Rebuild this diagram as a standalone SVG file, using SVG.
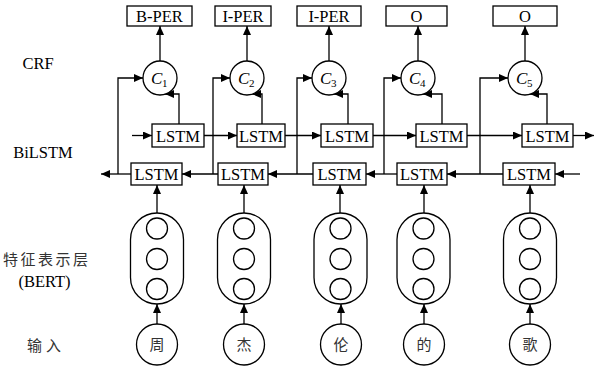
<svg xmlns="http://www.w3.org/2000/svg" width="595" height="369" viewBox="0 0 595 369">
<defs>
<marker id="ah" markerWidth="9" markerHeight="8" refX="9" refY="4" orient="auto" markerUnits="userSpaceOnUse">
<path d="M0,0 L9,4 L0,8 z" fill="#000"/>
</marker>
</defs>
<rect width="595" height="369" fill="#fff"/>

<g id="labels">
<text x="38" y="69" font-family="Liberation Serif" font-size="16.5" text-anchor="middle">CRF</text>
<text x="43" y="158" font-family="Liberation Serif" font-size="16.5" text-anchor="middle">BiLSTM</text>
<text x="3" y="265" font-family="Noto Sans CJK SC" font-size="15" fill="#333" letter-spacing="2.5">特征表示层</text>
<text x="44.5" y="287" font-family="Liberation Serif" font-size="16.5" text-anchor="middle">(BERT)</text>
<text x="27" y="351" font-family="Noto Sans CJK SC" font-size="15" fill="#333" letter-spacing="4">输入</text>
</g>

<g id="connectors" fill="none" stroke="#000" stroke-width="1.3" marker-end="url(#ah)">
<line x1="160" y1="61" x2="160" y2="26"/>
<line x1="247" y1="61" x2="247" y2="26"/>
<line x1="329" y1="61" x2="329" y2="26"/>
<line x1="418" y1="61" x2="418" y2="26"/>
<line x1="525" y1="61" x2="525" y2="26"/>
<polyline points="179,124 179,94 165,94"/>
<polyline points="262,124 262,94 252,94"/>
<polyline points="348,124 348,94 334,94"/>
<polyline points="442,124 442,94 423,94"/>
<polyline points="547,124 547,94 530,94"/>
<polyline points="118,174 118,78 143,78"/>
<polyline points="213,174 213,78 230,78"/>
<polyline points="297,174 297,78 312,78"/>
<polyline points="384,174 384,78 401,78"/>
<polyline points="480,174 480,78 508,78"/>
<line x1="132" y1="135.5" x2="152" y2="135.5"/>
<line x1="204" y1="135.5" x2="237" y2="135.5"/>
<line x1="285" y1="135.5" x2="321" y2="135.5"/>
<line x1="373" y1="135.5" x2="416" y2="135.5"/>
<line x1="467" y1="135.5" x2="522" y2="135.5"/>
<line x1="573" y1="135.5" x2="594" y2="135.5"/>
<line x1="580" y1="174" x2="555" y2="174"/>
<line x1="503" y1="174" x2="447" y2="174"/>
<line x1="397" y1="174" x2="366" y2="174"/>
<line x1="313" y1="174" x2="268" y2="174"/>
<line x1="218" y1="174" x2="182" y2="174"/>
<line x1="131" y1="174" x2="101" y2="174"/>
<line x1="157" y1="213" x2="157" y2="185"/>
<line x1="244" y1="213" x2="244" y2="185"/>
<line x1="340" y1="213" x2="340" y2="185"/>
<line x1="424" y1="213" x2="424" y2="185"/>
<line x1="530" y1="213" x2="530" y2="185"/>
<line x1="157" y1="324" x2="157" y2="304"/>
<line x1="244" y1="324" x2="244" y2="304"/>
<line x1="341" y1="324" x2="341" y2="304"/>
<line x1="424" y1="324" x2="424" y2="304"/>
<line x1="530" y1="324" x2="530" y2="304"/>
</g>

<g fill="#fff" stroke="#000" stroke-width="1.3">
<g id="out1"><rect x="127" y="6" width="65" height="20"/><text x="159.5" y="21.5" stroke="none" fill="#000" font-family="Liberation Serif" font-size="16.5" text-anchor="middle">B-PER</text></g>
<g id="out2"><rect x="215" y="6" width="56" height="20"/><text x="243" y="21.5" stroke="none" fill="#000" font-family="Liberation Serif" font-size="16.5" text-anchor="middle">I-PER</text></g>
<g id="out3"><rect x="297" y="6" width="64" height="20"/><text x="329" y="21.5" stroke="none" fill="#000" font-family="Liberation Serif" font-size="16.5" text-anchor="middle">I-PER</text></g>
<g id="out4"><rect x="386" y="6" width="61" height="20"/><text x="416.5" y="21.5" stroke="none" fill="#000" font-family="Liberation Serif" font-size="16.5" text-anchor="middle">O</text></g>
<g id="out5"><rect x="493" y="6" width="64" height="20"/><text x="525" y="21.5" stroke="none" fill="#000" font-family="Liberation Serif" font-size="16.5" text-anchor="middle">O</text></g>

<g id="c1"><circle cx="160" cy="78" r="17"/><text x="151" y="84" stroke="none" fill="#000" font-family="Liberation Serif" font-style="italic" font-size="17">C</text><text x="162" y="87" stroke="none" fill="#000" font-family="Liberation Serif" font-size="11">1</text></g>
<g id="c2"><circle cx="247" cy="78" r="17"/><text x="238" y="84" stroke="none" fill="#000" font-family="Liberation Serif" font-style="italic" font-size="17">C</text><text x="249" y="87" stroke="none" fill="#000" font-family="Liberation Serif" font-size="11">2</text></g>
<g id="c3"><circle cx="329" cy="78" r="17"/><text x="320" y="84" stroke="none" fill="#000" font-family="Liberation Serif" font-style="italic" font-size="17">C</text><text x="331" y="87" stroke="none" fill="#000" font-family="Liberation Serif" font-size="11">3</text></g>
<g id="c4"><circle cx="418" cy="78" r="17"/><text x="409" y="84" stroke="none" fill="#000" font-family="Liberation Serif" font-style="italic" font-size="17">C</text><text x="420" y="87" stroke="none" fill="#000" font-family="Liberation Serif" font-size="11">4</text></g>
<g id="c5"><circle cx="525" cy="78" r="17"/><text x="516" y="84" stroke="none" fill="#000" font-family="Liberation Serif" font-style="italic" font-size="17">C</text><text x="527" y="87" stroke="none" fill="#000" font-family="Liberation Serif" font-size="11">5</text></g>

<g id="fw1"><rect x="152" y="124" width="52" height="23"/><text x="178" y="141.5" stroke="none" fill="#000" font-family="Liberation Serif" font-size="16.5" text-anchor="middle">LSTM</text></g>
<g id="fw2"><rect x="237" y="124" width="48" height="23"/><text x="261" y="141.5" stroke="none" fill="#000" font-family="Liberation Serif" font-size="16.5" text-anchor="middle">LSTM</text></g>
<g id="fw3"><rect x="321" y="124" width="52" height="23"/><text x="347" y="141.5" stroke="none" fill="#000" font-family="Liberation Serif" font-size="16.5" text-anchor="middle">LSTM</text></g>
<g id="fw4"><rect x="416" y="124" width="51" height="23"/><text x="441.5" y="141.5" stroke="none" fill="#000" font-family="Liberation Serif" font-size="16.5" text-anchor="middle">LSTM</text></g>
<g id="fw5"><rect x="522" y="124" width="51" height="23"/><text x="547.5" y="141.5" stroke="none" fill="#000" font-family="Liberation Serif" font-size="16.5" text-anchor="middle">LSTM</text></g>

<g id="bw1"><rect x="131" y="163" width="51" height="22"/><text x="156.5" y="180" stroke="none" fill="#000" font-family="Liberation Serif" font-size="16.5" text-anchor="middle">LSTM</text></g>
<g id="bw2"><rect x="218" y="163" width="50" height="22"/><text x="243" y="180" stroke="none" fill="#000" font-family="Liberation Serif" font-size="16.5" text-anchor="middle">LSTM</text></g>
<g id="bw3"><rect x="313" y="163" width="53" height="22"/><text x="339.5" y="180" stroke="none" fill="#000" font-family="Liberation Serif" font-size="16.5" text-anchor="middle">LSTM</text></g>
<g id="bw4"><rect x="397" y="163" width="50" height="22"/><text x="422" y="180" stroke="none" fill="#000" font-family="Liberation Serif" font-size="16.5" text-anchor="middle">LSTM</text></g>
<g id="bw5"><rect x="503" y="163" width="52" height="22"/><text x="529" y="180" stroke="none" fill="#000" font-family="Liberation Serif" font-size="16.5" text-anchor="middle">LSTM</text></g>

<g id="bert1"><rect x="130.5" y="213" width="53" height="91" rx="26.5"/><circle cx="157" cy="228.5" r="10.5"/><circle cx="157" cy="259" r="10.5"/><circle cx="157" cy="289" r="10.5"/></g>
<g id="bert2"><rect x="217.5" y="213" width="53" height="91" rx="26.5"/><circle cx="244" cy="228.5" r="10.5"/><circle cx="244" cy="259" r="10.5"/><circle cx="244" cy="289" r="10.5"/></g>
<g id="bert3"><rect x="314" y="213" width="53" height="91" rx="26.5"/><circle cx="340.5" cy="228.5" r="10.5"/><circle cx="340.5" cy="259" r="10.5"/><circle cx="340.5" cy="289" r="10.5"/></g>
<g id="bert4"><rect x="397" y="213" width="53" height="91" rx="26.5"/><circle cx="423.5" cy="228.5" r="10.5"/><circle cx="423.5" cy="259" r="10.5"/><circle cx="423.5" cy="289" r="10.5"/></g>
<g id="bert5"><rect x="503.5" y="213" width="53" height="91" rx="26.5"/><circle cx="530" cy="228.5" r="10.5"/><circle cx="530" cy="259" r="10.5"/><circle cx="530" cy="289" r="10.5"/></g>

<g id="in1"><circle cx="157" cy="344.5" r="20.5"/><text x="157" y="350" stroke="none" fill="#333" font-family="Noto Sans CJK SC" font-size="15" text-anchor="middle">周</text></g>
<g id="in2"><circle cx="244" cy="344.5" r="20.5"/><text x="244" y="350" stroke="none" fill="#333" font-family="Noto Sans CJK SC" font-size="15" text-anchor="middle">杰</text></g>
<g id="in3"><circle cx="341" cy="344.5" r="20.5"/><text x="341" y="350" stroke="none" fill="#333" font-family="Noto Sans CJK SC" font-size="15" text-anchor="middle">伦</text></g>
<g id="in4"><circle cx="424" cy="344.5" r="20.5"/><text x="424" y="350" stroke="none" fill="#333" font-family="Noto Sans CJK SC" font-size="15" text-anchor="middle">的</text></g>
<g id="in5"><circle cx="530" cy="344.5" r="20.5"/><text x="530" y="350" stroke="none" fill="#333" font-family="Noto Sans CJK SC" font-size="15" text-anchor="middle">歌</text></g>
</g>
</svg>
